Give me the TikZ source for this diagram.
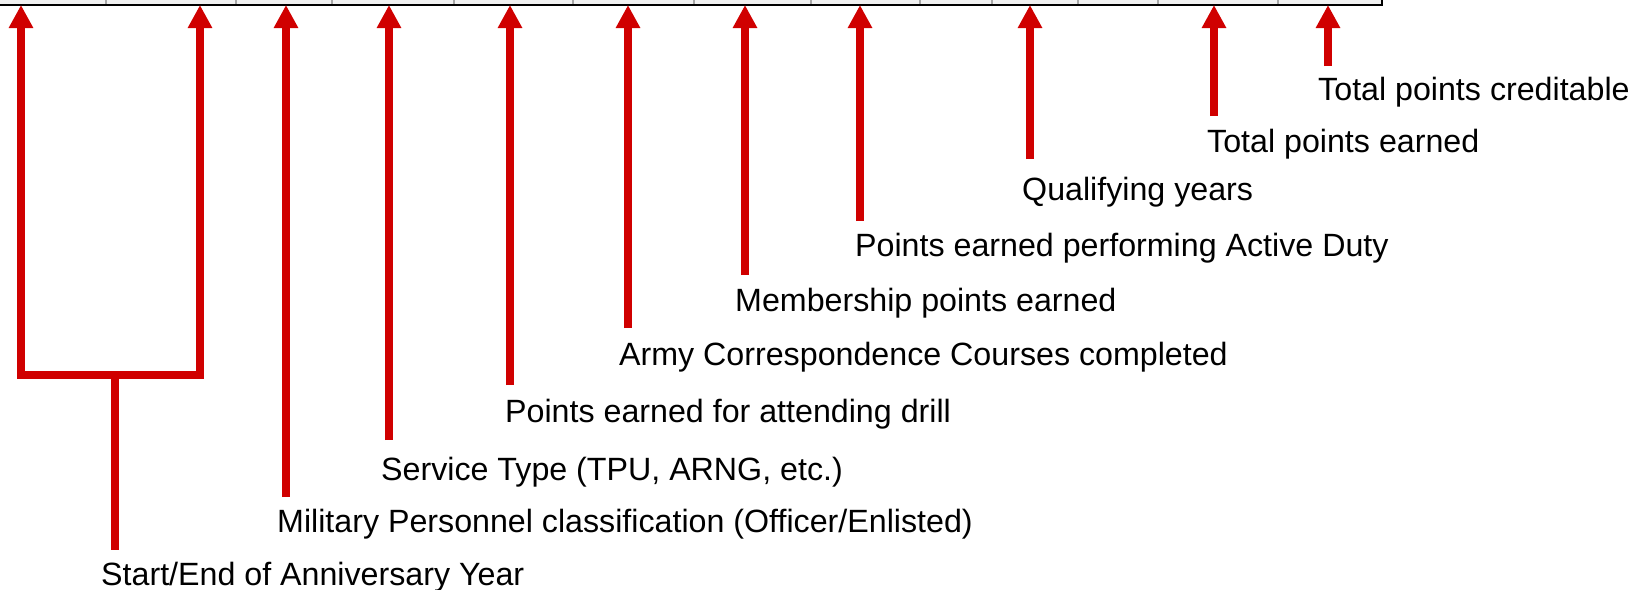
\documentclass[tikz,border=0pt]{standalone}
\usepackage{fontspec}
\setmainfont{Liberation Sans}
\usetikzlibrary{arrows.meta}
\definecolor{callred}{RGB}{208,0,0}
\tikzset{
  redline/.style={draw=callred, line width=7.5pt},
  callout/.style={anchor=base west, inner sep=0pt, font=\fontsize{32.2}{38}\selectfont},
}

\begin{document}
\begin{tikzpicture}[x=1pt, y=-1pt, >={Triangle[width=23pt,length=23pt]}]
    \useasboundingbox (0,0) rectangle (1633,589);
    % bottom edge of the form row
    \fill[gray!12] (0,0) rectangle (1382,5);
    \foreach \s in {106,236,332,454,573,694,811,920,992,1078,1158,1278}
        \draw[gray!70, line width=2pt] (\s,0) -- (\s,5);
    \draw[line width=2pt] (0,5) -- (1382,5) -- (1382,0);

    \coordinate (tStart) at (21,5);
    \coordinate (tEnd) at (200,5);
    \coordinate (tMil) at (286,5);
    \coordinate (tSvc) at (389,5);
    \coordinate (tDrill) at (510,5);
    \coordinate (tACC) at (628,5);
    \coordinate (tMem) at (745,5);
    \coordinate (tAD) at (860,5);
    \coordinate (tQY) at (1030,5);
    \coordinate (tTPE) at (1214,5);
    \coordinate (tTPC) at (1328,5);

    \coordinate (bar) at (115,375);
    \coordinate (bStart) at (115,550);
    \coordinate (bMil) at (286,497);
    \coordinate (bSvc) at (389,440);
    \coordinate (bDrill) at (510,385);
    \coordinate (bACC) at (628,328);
    \coordinate (bMem) at (745,275);
    \coordinate (bAD) at (860,221);
    \coordinate (bQY) at (1030,159);
    \coordinate (bTPE) at (1214,116);
    \coordinate (bTPC) at (1328,66);

    \draw[redline, <->] (tStart) |- (bar) -| (tEnd);
    \draw[redline] (bar) -- (bStart);
    \draw[redline, ->] (bMil) -- (tMil);
    \draw[redline, ->] (bSvc) -- (tSvc);
    \draw[redline, ->] (bDrill) -- (tDrill);
    \draw[redline, ->] (bACC) -- (tACC);
    \draw[redline, ->] (bMem) -- (tMem);
    \draw[redline, ->] (bAD) -- (tAD);
    \draw[redline, ->] (bQY) -- (tQY);
    \draw[redline, ->] (bTPE) -- (tTPE);
    \draw[redline, ->] (bTPC) -- (tTPC);

    \node[callout] (lStart) at (101,585) {Start/End of Anniversary Year};
    \node[callout] (lMil) at (277,532) {Military Personnel classification (Officer/Enlisted)};
    \node[callout] (lSvc) at (381,480) {Service Type (TPU, ARNG, etc.)};
    \node[callout] (lDrill) at (505,422) {Points earned for attending drill};
    \node[callout] (lACC) at (619,365) {Army Correspondence Courses completed};
    \node[callout] (lMem) at (735,311) {Membership points earned};
    \node[callout] (lAD) at (855,256) {Points earned performing Active Duty};
    \node[callout] (lQY) at (1022,200) {Qualifying years};
    \node[callout] (lTPE) at (1207,152) {Total points earned};
    \node[callout] (lTPC) at (1318,100) {Total points creditable};
\end{tikzpicture}
\end{document}
